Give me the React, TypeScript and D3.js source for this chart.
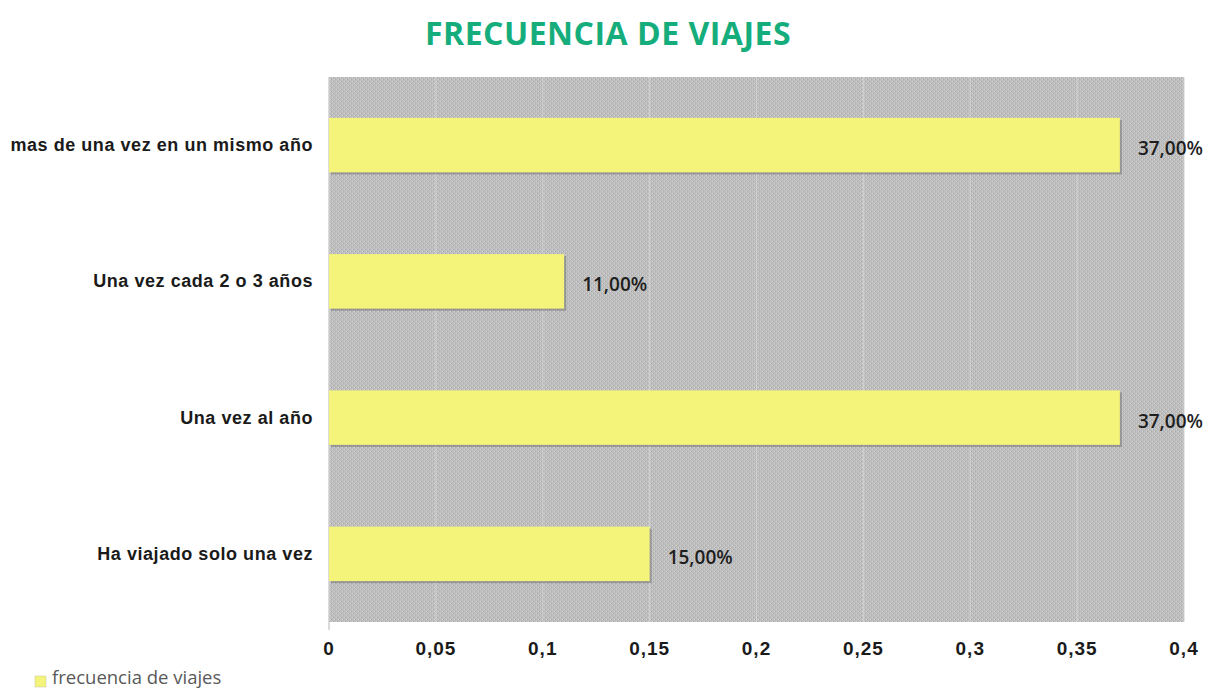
import React, { useEffect, useRef } from "react";
import * as d3 from "d3";

const categories = [
  "mas de una vez en un mismo año",
  "Una vez cada 2 o 3 años",
  "Una vez al año",
  "Ha viajado solo una vez",
];
const values = [0.37, 0.11, 0.37, 0.15];
const valueLabels = ["37,00%", "11,00%", "37,00%", "15,00%"];
const xTicks = [0, 0.05, 0.1, 0.15, 0.2, 0.25, 0.3, 0.35, 0.4];
const seriesName = "frecuencia de viajes";
const title = "FRECUENCIA DE VIAJES";

export default function App() {
  const ref = useRef<SVGSVGElement>(null);

  useEffect(() => {
    if (!ref.current) return;
    const svg = d3.select(ref.current);
    svg.selectAll("*").remove();

    const margin = { top: 77, right: 27, bottom: 68, left: 329 };
    const W = 1211,
      H = 690;
    const width = W - margin.left - margin.right;
    const height = H - margin.top - margin.bottom;

    // grey textured background
    const defs = svg.append("defs");
    const pat = defs
      .append("pattern")
      .attr("id", "bgpat")
      .attr("width", 4)
      .attr("height", 4)
      .attr("patternUnits", "userSpaceOnUse");
    pat.append("rect").attr("width", 4).attr("height", 4).attr("fill", "#bebebe");
    pat.append("rect").attr("x", 0).attr("y", 0).attr("width", 1).attr("height", 1).attr("fill", "#a8a8a8");
    pat.append("rect").attr("x", 2).attr("y", 2).attr("width", 1).attr("height", 1).attr("fill", "#a8a8a8");
    pat.append("rect").attr("x", 1).attr("y", 2).attr("width", 1).attr("height", 1).attr("fill", "#d4d4d4");
    pat.append("rect").attr("x", 3).attr("y", 0).attr("width", 1).attr("height", 1).attr("fill", "#d4d4d4");

    const g = svg
      .append("g")
      .attr("transform", `translate(${margin.left},${margin.top})`);

    const x = d3.scaleLinear().domain([0, 0.4]).range([0, width]);
    const y = d3
      .scaleBand()
      .domain(categories)
      .range([0, height])
      .paddingInner(0.6)
      .paddingOuter(0.3);

    g.append("rect")
      .attr("width", width)
      .attr("height", height)
      .attr("fill", "url(#bgpat)");

    // gridlines
    g.selectAll(".grid")
      .data(xTicks.slice(1))
      .enter()
      .append("line")
      .attr("x1", (d) => x(d))
      .attr("x2", (d) => x(d))
      .attr("y1", 0)
      .attr("y2", height)
      .attr("stroke", "#d2d2d2")
      .attr("stroke-width", 1);

    // left axis line
    g.append("line")
      .attr("x1", 0)
      .attr("x2", 0)
      .attr("y1", 0)
      .attr("y2", height + 8)
      .attr("stroke", "#cfcfcf")
      .attr("stroke-width", 1.5);

    // bar shadows
    g.selectAll(".shadow")
      .data(values)
      .enter()
      .append("rect")
      .attr("x", 2)
      .attr("y", (_, i) => (y(categories[i]) ?? 0) + 2)
      .attr("width", (d) => x(d))
      .attr("height", y.bandwidth())
      .attr("fill", "#7a7a7a")
      .attr("opacity", 0.6);

    // bars
    g.selectAll(".bar")
      .data(values)
      .enter()
      .append("rect")
      .attr("x", 0)
      .attr("y", (_, i) => y(categories[i]) ?? 0)
      .attr("width", (d) => x(d))
      .attr("height", y.bandwidth())
      .attr("fill", "#f4f47a");

    // value labels
    g.selectAll(".val")
      .data(values)
      .enter()
      .append("text")
      .attr("x", (d) => x(d) + 18)
      .attr("y", (_, i) => (y(categories[i]) ?? 0) + y.bandwidth() / 2 + 10)
      .attr("font-family", "'Open Sans', sans-serif")
      .attr("font-weight", 600)
      .attr("font-size", 19)
      .attr("fill", "#1e1e1e")
      .text((_, i) => valueLabels[i]);

    // category labels
    g.selectAll(".cat")
      .data(categories)
      .enter()
      .append("text")
      .attr("x", -16)
      .attr("y", (d) => (y(d) ?? 0) + y.bandwidth() / 2 + 6)
      .attr("text-anchor", "end")
      .attr("font-family", "'Liberation Sans', Arial, sans-serif")
      .attr("font-weight", "bold")
      .attr("font-size", 18)
      .attr("letter-spacing", 0.55)
      .attr("fill", "#1a1a1a")
      .text((d) => d);

    // x tick labels
    g.selectAll(".tick")
      .data(xTicks)
      .enter()
      .append("text")
      .attr("x", (d) => x(d))
      .attr("y", height + 33)
      .attr("text-anchor", "middle")
      .attr("font-family", "'Liberation Sans', Arial, sans-serif")
      .attr("font-weight", "bold")
      .attr("font-size", 19)
      .attr("letter-spacing", 1)
      .attr("fill", "#1a1a1a")
      .text((d) => (d === 0 ? "0" : String(d).replace(".", ",")));

    // title
    svg
      .append("text")
      .attr("x", 608)
      .attr("y", 45)
      .attr("text-anchor", "middle")
      .attr("font-family", "'Open Sans', sans-serif")
      .attr("font-weight", "bold")
      .attr("font-size", 32)
      .attr("letter-spacing", 0.5)
      .attr("fill", "#16ad7c")
      .text(title);

    // legend
    svg
      .append("rect")
      .attr("x", 35)
      .attr("y", 676)
      .attr("width", 11)
      .attr("height", 11)
      .attr("fill", "#f4f47a")
      .attr("stroke", "#c8c8a0")
      .attr("stroke-width", 0.5);
    svg
      .append("text")
      .attr("x", 52)
      .attr("y", 684)
      .attr("font-family", "'Open Sans', sans-serif")
      .attr("font-size", 18.5)
      .attr("fill", "#595959")
      .text(seriesName);
  }, []);

  return (
    <svg
      ref={ref}
      width={1211}
      height={690}
      style={{ position: "absolute", left: 0, top: 0, background: "#fff" }}
    />
  );
}
